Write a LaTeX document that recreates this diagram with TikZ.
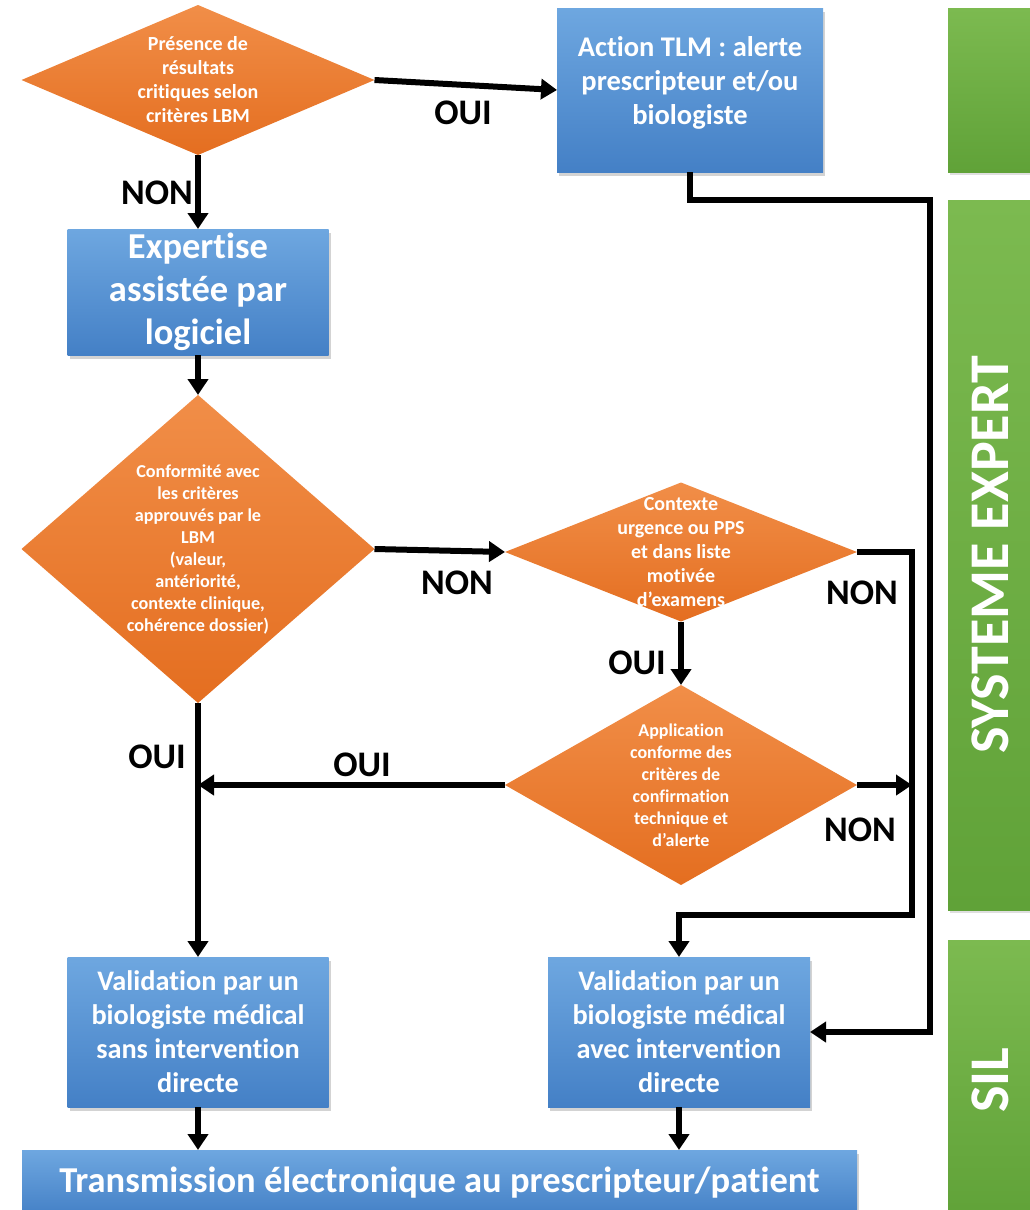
\documentclass[tikz,border=0pt]{standalone}
\usepackage{fontspec}
\setmainfont{Carlito}[Ligatures=NoCommon, Contextuals=NoAlternate]
\usetikzlibrary{arrows.meta, calc, positioning, shapes.geometric, shadows}

\definecolor{bluetop}{RGB}{110,167,224}
\definecolor{bluebot}{RGB}{68,128,198}
\definecolor{orgtop}{RGB}{241,142,72}
\definecolor{orgbot}{RGB}{228,110,32}
\definecolor{grnlft}{RGB}{124,186,80}
\definecolor{grnrgt}{RGB}{96,162,56}

\begin{document}
\begin{tikzpicture}[
x=1pt, y=-1pt,
    fs/.style 2 args = {font=\bfseries\fontsize{#1}{#2}\selectfont},
   box/.style = {rectangle, top color=bluetop, bottom color=bluebot,
                 text=white, align=center, inner sep=0pt, outer sep=0pt,
                 drop shadow={shadow xshift=2pt, shadow yshift=-4pt,
                              opacity=0.35}},
   dia/.style = {diamond, top color=orgtop, bottom color=orgbot,
                 text=white, align=center, inner sep=-30pt, outer sep=0pt},
   bar/.style = {rectangle, rotate=90, top color=grnlft, bottom color=grnrgt,
                 text=white, inner sep=0pt, outer sep=0pt,
                 minimum height=84pt, fs={56}{56},
                 drop shadow={shadow xshift=2pt, shadow yshift=-3pt,
                              opacity=0.25}},
   lbl/.style = {fs={36}{36}, inner sep=0pt},
   arr/.style = {line width=6pt, -{Triangle[length=16pt,width=20pt]}}
                        ]
\useasboundingbox (0,0) rectangle (1029,1210);
    % side bars
\node (top)  [bar, minimum width=164pt] at (990,90)   {};
\node (sys)  [bar, minimum width=710pt] at (990,555)  {SYSTEME EXPERT};
\node (sil)  [bar, minimum width=280pt] at (990,1080) {SIL};
    % blocks
\node (d1)  [dia, aspect=2.35, minimum width=353pt, minimum height=150pt,
             fs={20}{24}] at (198,80)
            {Présence de\\résultats\\critiques selon\\critères LBM};
\node (act) [box, minimum width=266pt, minimum height=164pt,
             fs={28.5}{34}] at (690,90)
            {Action TLM : alerte\\prescripteur et/ou\\biologiste\\[-14pt]\mbox{}};
\node (exp) [box, minimum width=261pt, minimum height=126pt,
             fs={36.5}{43}] at (198,292)
            {Expertise\\assistée par\\logiciel};
\node (d2)  [dia, aspect=1.15, minimum width=353pt, minimum height=308pt,
             fs={18.2}{22}] at (198,549)
            {Conformité avec\\les critères\\approuvés par le\\LBM\\(valeur,\\antériorité,\\contexte clinique,\\cohérence dossier)};
\node (d3)  [dia, aspect=2.5, minimum width=352pt, minimum height=139pt,
             fs={20}{24}] at (681,552)
            {Contexte\\urgence ou PPS\\et dans liste\\motivée\\d’examens};
\node (d4)  [dia, aspect=1.76, minimum width=352pt, minimum height=200pt,
             fs={18}{22}] at (681,785)
            {Application\\conforme des\\critères de\\confirmation\\technique et\\d’alerte};
\node (vall) [box, minimum width=261pt, minimum height=150pt,
              fs={28.3}{34}] at (198,1032)
            {Validation par un\\biologiste médical\\sans intervention\\directe};
\node (valr) [box, minimum width=262pt, minimum height=150pt,
              fs={28.3}{34}] at (679,1032)
            {Validation par un\\biologiste médical\\avec intervention\\directe};
\node (trans) [box, minimum width=835pt, minimum height=66pt,
               fs={36.5}{36.5}] at (439.5,1183)
            {Transmission électronique au prescripteur/patient};
    % connectors
\coordinate (ca) at (930,200);
\coordinate (cr) at (912,915);
\draw[arr] (d1.east)   -- (act.west);
\draw[arr] (d1.south)  -- (exp.north);
\draw[arr] (exp.south) -- (d2.north);
\draw[arr] (d2.east)   -- (d3.west);
\draw[arr] (d3.south)  -- (d4.north);
\draw[arr] (d3.east) -| (cr) -| (valr.north);
\draw[arr] (d4.east)   -- (d4.east -| cr);
\draw[arr] (d4.west)   -- (d4.west -| d2.south);
\draw[arr] (d2.south)  -- (vall.north);
\draw[arr] (act.south) |- (ca) |- (valr.east);
\draw[arr] (vall.south) -- (vall.south |- trans.north);
\draw[arr] (valr.south) -- (valr.south |- trans.north);
    % labels
\node (oui1) [lbl] at (463,113) {OUI};
\node (non1) [lbl] at (157,193) {NON};
\node (non2) [lbl] at (457,583) {NON};
\node (non3) [lbl] at (862,593) {NON};
\node (oui2) [lbl] at (637,663) {OUI};
\node (oui3) [lbl] at (157,757) {OUI};
\node (oui4) [lbl] at (362,765) {OUI};
\node (non4) [lbl] at (860,830) {NON};
\end{tikzpicture}
\end{document}
